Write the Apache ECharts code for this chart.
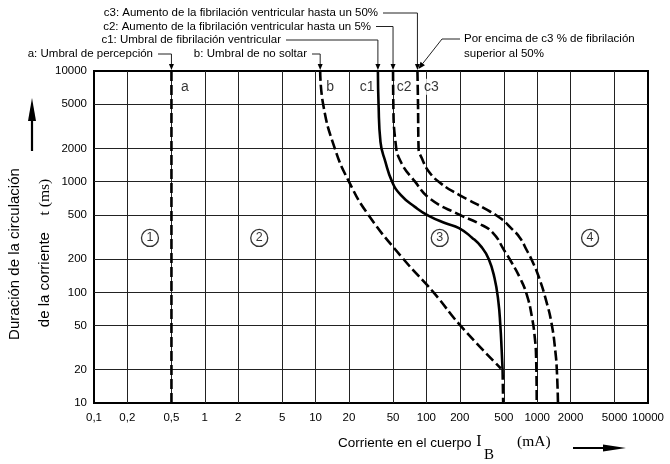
<!DOCTYPE html>
<html><head><meta charset="utf-8">
<script src="https://cdn.jsdelivr.net/npm/echarts@6/dist/echarts.min.js"></script>
<style>html,body{margin:0;padding:0;background:#fff}#c{width:670px;height:464px}</style>
</head><body><div id="c"></div>
<script>
// ---- data ----
const xTickLabels = [0.1,0.2,0.5,1,2,5,10,20,50,100,200,500,1000,2000,5000,10000];
const yTickLabels = [10,20,50,100,200,500,1000,2000,5000,10000];
const curveA = [[0.5,10000],[0.5,10]];
const curveB = [[11,10000],[11.7,5000],[14.9,2000],[20,1000],[30,500],[62,200],[116,100],[203,50],[470,20.5]];
const curveC1 = [[36.5,10000],[37,5000],[38.5,2290],[42.6,1520],[49,1000],[58.6,759],[78.7,592],[105,490],[149,421],[197,381],[258,312],[315,256],[365,200],[411,136],[446,83],[465,50],[478,30],[487,20]];
const curveC1Tail = [[487,20],[493,10]];
const curveC2 = [[50,10000],[50.3,5000],[52.6,2290],[58.6,1520],[79,1000],[108,700],[198,503],[294,421],[398,345],[503,240],[581,190],[697,136],[805,95.5],[897,59.5],[951,39],[978,25.6],[990,10]];
const curveC3 = [[83,10000],[84,5000],[85,2000],[91,1627],[105,1236],[134,970],[197,759],[241,683],[337,571],[470,464],[581,381],[697,312],[805,240],[891,197],[1038,136],[1209,83],[1349,52],[1457,29.5],[1505,19.5],[1540,10]];
const curveTags = [[0.66,7200,'a'],[13.5,7200,'b'],[29.2,7200,'c1'],[63,7200,'c2'],[111,7200,'c3']];
const zoneMarks = [[0.32,310,'1'],[3.1,310,'2'],[132,310,'3'],[3000,310,'4']];
const notes = {
  a: 'a: Umbral de percepción',
  b: 'b: Umbral de no soltar',
  c1: 'c1: Umbral de fibrilación ventricular',
  c2: 'c2: Aumento de la fibrilación ventricular hasta un 5%',
  c3: 'c3: Aumento de la fibrilación ventricular hasta un 50%',
  over1: 'Por encima de c3 % de fibrilación',
  over2: 'superior al 50%'
};

// ---- chart ----
const SANS = '"Liberation Sans", Arial, sans-serif';
const SERIF = '"Liberation Serif", "Times New Roman", serif';
const fmt = v => String(Number(Number(v).toPrecision(6))).replace('.', ',');
const chart = echarts.init(document.getElementById('c'), null, {renderer:'canvas'});

function curve(data, dashed, smooth) {
  return {
    type:'line', data, symbol:'none', showSymbol:false, smooth: smooth ? 0.5 : false,
    animation:false, z:5,
    lineStyle:{color:'#000', width:2.6, type: dashed ? [10,4] : 'solid'}
  };
}

chart.setOption({
  animation:false,
  backgroundColor:'#fff',
  grid:{left:94, top:71, width:554, height:332, show:true, borderColor:'#000', borderWidth:2,
        backgroundColor:'transparent', containLabel:false, outerBoundsMode:'none'},
  xAxis:{type:'log', logBase:10, min:0.1, max:10000,
    axisLine:{show:false},
    axisTick:{show:false, customValues:xTickLabels.slice(1,-1)},
    splitLine:{show:true, lineStyle:{color:'#222', width:1}},
    minorTick:{show:false}, minorSplitLine:{show:false},
    axisLabel:{customValues:xTickLabels, formatter:fmt, margin:9, fontSize:11.5, fontFamily:SANS, color:'#000'}},
  yAxis:{type:'log', logBase:10, min:10, max:10000,
    axisLine:{show:false},
    axisTick:{show:false, customValues:yTickLabels.slice(1,-1)},
    splitLine:{show:true, lineStyle:{color:'#222', width:1}},
    axisLabel:{customValues:yTickLabels, formatter:fmt, margin:7, fontSize:11.5, fontFamily:SANS, color:'#000'}},
  series:[
    curve(curveA, true, false),
    curve(curveB, true, true),
    curve(curveC1, false, true),
    curve(curveC1Tail, true, false),
    curve(curveC2, true, true),
    curve(curveC3, true, true),
    {type:'scatter', data:curveTags, symbolSize:1, itemStyle:{color:'rgba(0,0,0,0)'}, z:6,
     label:{show:true, position:'inside', formatter:p=>p.data[2], fontSize:14, fontFamily:SANS, color:'#000',
            backgroundColor:'#fff', padding:[1,1]}},
    {type:'scatter', data:zoneMarks, symbol:'circle', symbolSize:17, z:6,
     itemStyle:{color:'#fff', borderColor:'#000', borderWidth:1.3},
     label:{show:true, position:'inside', formatter:p=>p.data[2], fontSize:12.5, fontFamily:SANS, color:'#000'}}
  ]
});

// ---- annotations ----
const P = v => chart.convertToPixel({gridIndex:0}, v);
const topY = P([1,10000])[1];
const g = [];
const txt = (text, x, y, align, size, font) => g.push({type:'text', x, y, z:10,
  style:{text, align, verticalAlign:'middle', fontSize:size, fontFamily:font||SANS, fill:'#000'}});
const ln = (x1,y1,x2,y2,w,c) => g.push({type:'line', z:10, shape:{x1,y1,x2,y2}, style:{stroke:c||'#222', lineWidth:w||1}});
const tri = (pts) => g.push({type:'polygon', z:10, shape:{points:pts}, style:{fill:'#000'}});
function leader(key, data, textRight, ty) {
  const x = P([data[0][0], 10000])[0];
  txt(notes[key], textRight, ty, 'right', 11.5);
  ln(textRight + 5, ty, x, ty);
  ln(x, ty, x, topY - 5);
  tri([[x-2.5, topY-7],[x+2.5, topY-7],[x, topY-1]]);
}
leader('c3', curveC3, 378, 13);
leader('c2', curveC2, 371, 26.5);
leader('c1', curveC1, 281, 40);
leader('a', curveA, 153, 54);
leader('b', curveB, 307, 54);
// "por encima" note
txt(notes.over1, 464, 39, 'left', 11.5);
txt(notes.over2, 464, 53.5, 'left', 11.5);
(function(){
  const x3 = P([curveC3[0][0], 10000])[0] + 1;
  const ex = x3, ey = topY - 2, sx = 442, sy = 39;
  ln(460, sy, sx, sy);
  const dx = ex - sx, dy = ey - sy, L = Math.hypot(dx, dy), ux = dx/L, uy = dy/L;
  const bx = ex - ux*7, by = ey - uy*7;
  ln(sx, sy, bx, by);
  tri([[ex,ey],[bx - uy*2.8, by + ux*2.8],[bx + uy*2.8, by - ux*2.8]]);
})();
// y-axis title
g.push({type:'text', x:15, y:254, rotation:Math.PI/2, z:10,
  style:{text:'Duración de la circulación', align:'center', verticalAlign:'middle', fontSize:15, fontFamily:SANS, fill:'#000'}});
g.push({type:'text', x:45, y:253, rotation:Math.PI/2, z:10,
  style:{text:'{a|de la corriente}{s|    }{b|t (ms)}', align:'center', verticalAlign:'middle', fill:'#000',
    rich:{a:{fontSize:15, fontFamily:SANS, fill:'#000'}, s:{fontSize:15, fontFamily:SANS}, b:{fontSize:15.5, fontFamily:SERIF, fill:'#000'}}}});
ln(32, 151, 32, 118, 2.2, '#000');
tri([[28,121],[36,121],[32,98]]);
// x-axis title
txt('Corriente en el cuerpo', 338, 443, 'left', 13.5);
txt('I', 479, 442, 'center', 16, SERIF);
txt('B', 489, 455, 'center', 15, SERIF);
txt('(mA)', 517, 442, 'left', 15.5, SERIF);
ln(573, 448, 606, 448, 2.2, '#000');
tri([[603,444.5],[603,451.5],[626,448]]);
chart.setOption({graphic:g});
</script></body></html>
